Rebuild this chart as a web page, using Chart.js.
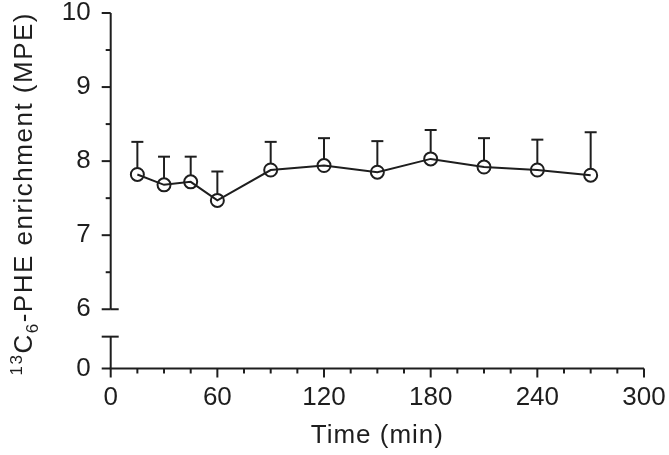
<!DOCTYPE html>
<html>
<head>
<meta charset="utf-8">
<script src="https://cdn.jsdelivr.net/npm/chart.js@4.4.0/dist/chart.umd.min.js"></script>
<style>
  body { margin: 0; background: #fff; }
  #wrap { width: 669px; height: 455px; }
</style>
</head>
<body>
<div id="wrap"><canvas id="myChart"></canvas></div>
<script>
/* data */
const times = [15, 30, 45, 60, 90, 120, 150, 180, 210, 240, 270];
const enrichment = [7.82, 7.68, 7.72, 7.47, 7.88, 7.94, 7.85, 8.03, 7.92, 7.88, 7.81];
const sd = [0.44, 0.38, 0.34, 0.39, 0.38, 0.37, 0.42, 0.39, 0.39, 0.41, 0.58];

const xTicks = [0, 60, 120, 180, 240, 300];
const yTicks = [6, 7, 8, 9, 10];
const yBreakLabel = "0";

/* broken y axis: bottom of the scale stands for 0 */
const Y_MIN = 5.2;
const Y_BREAK_TOP = 5.63;

const INK = "#1e1e1e";
const FONT = "Liberation Sans, Arial, sans-serif";

/* axes, break, error bars and titles */
const figurePlugin = {
  id: "figure",
  afterDatasetsDraw(chart) {
    const ctx = chart.ctx;
    const xs = chart.scales.x;
    const ys = chart.scales.y;
    const left = xs.getPixelForValue(0);
    const bottom = ys.getPixelForValue(Y_MIN);

    ctx.save();
    ctx.strokeStyle = INK;
    ctx.fillStyle = INK;
    ctx.lineWidth = 2;
    ctx.lineCap = "butt";

    const line = (x1, y1, x2, y2) => {
      ctx.beginPath();
      ctx.moveTo(x1, y1);
      ctx.lineTo(x2, y2);
      ctx.stroke();
    };

    // y axis, upper part
    line(left, ys.getPixelForValue(10), left, ys.getPixelForValue(6));
    for (let v = 6; v <= 10; v += 0.5) {
      const y = ys.getPixelForValue(v);
      const major = Number.isInteger(v);
      line(left - (major ? 9 : 5), y, left, y);
    }
    line(left, ys.getPixelForValue(6), left + 8, ys.getPixelForValue(6));

    // y axis, lower part
    const yb = ys.getPixelForValue(Y_BREAK_TOP);
    line(left, bottom, left, yb);
    line(left - 9, yb, left + 8, yb);
    line(left - 9, bottom, left, bottom);

    // x axis
    line(left - 1, bottom, xs.getPixelForValue(300), bottom);
    for (let t = 0; t <= 300; t += 15) {
      const x = xs.getPixelForValue(t);
      line(x, bottom, x, bottom + (t % 60 === 0 ? 9 : 5));
    }

    // error bars (upward)
    const meta = chart.getDatasetMeta(0);
    meta.data.forEach((pt, i) => {
      const r = pt.options.radius;
      const yTop = ys.getPixelForValue(enrichment[i] + sd[i]);
      line(pt.x, pt.y - r, pt.x, yTop);
      line(pt.x - 6, yTop, pt.x + 6, yTop);
    });

    // x title
    ctx.letterSpacing = "1px";
    ctx.font = "26px " + FONT;
    ctx.textAlign = "center";
    ctx.textBaseline = "alphabetic";
    ctx.fillText("Time (min)", (left + xs.getPixelForValue(300)) / 2, 443);

    // y title with superscript / subscript
    ctx.letterSpacing = "1.5px";
    const parts = [
      { t: "13", size: 17, shift: -10 },
      { t: "C", size: 26, shift: 0 },
      { t: "6", size: 17, shift: 6 },
      { t: "-PHE enrichment (MPE)", size: 26, shift: 0 },
    ];
    let total = 0;
    parts.forEach((p) => {
      ctx.font = p.size + "px " + FONT;
      p.w = ctx.measureText(p.t).width;
      total += p.w;
    });
    ctx.translate(32, (ys.getPixelForValue(10) + bottom) / 2 + 3);
    ctx.rotate(-Math.PI / 2);
    ctx.textAlign = "left";
    let cx = -total / 2;
    parts.forEach((p) => {
      ctx.font = p.size + "px " + FONT;
      ctx.fillText(p.t, cx, p.shift);
      cx += p.w;
    });
    ctx.restore();
  },
};

new Chart(document.getElementById("myChart"), {
  type: "line",
  data: {
    datasets: [
      {
        data: times.map((t, i) => ({ x: t, y: enrichment[i] })),
        borderColor: INK,
        borderWidth: 2,
        pointRadius: 6.5,
        pointBorderWidth: 2,
        pointBorderColor: INK,
        pointBackgroundColor: "rgba(0,0,0,0)",
        tension: 0,
        fill: false,
      },
    ],
  },
  options: {
    responsive: true,
    maintainAspectRatio: false,
    animation: false,
    layout: { padding: { top: 13, right: 25, left: 0, bottom: 0 } },
    plugins: {
      legend: { display: false },
      tooltip: { enabled: false },
    },
    scales: {
      x: {
        type: "linear",
        min: 0,
        max: 300,
        grid: { display: false },
        border: { display: false },
        afterBuildTicks: (scale) => {
          scale.ticks = xTicks.map((v) => ({ value: v }));
        },
        afterFit: (scale) => {
          scale.height = 86.5;
          scale.paddingLeft = 0;
          scale.paddingRight = 0;
        },
        ticks: {
          color: INK,
          padding: 6,
          maxRotation: 0,
          font: { family: FONT, size: 26 },
        },
      },
      y: {
        type: "linear",
        min: Y_MIN,
        max: 10,
        grid: { display: false },
        border: { display: false },
        afterBuildTicks: (scale) => {
          scale.ticks = [Y_MIN].concat(yTicks).map((v) => ({ value: v }));
        },
        afterFit: (scale) => {
          scale.width = 110.7;
          scale.paddingTop = 0;
          scale.paddingBottom = 0;
        },
        ticks: {
          color: INK,
          padding: 12,
          font: { family: FONT, size: 26 },
          callback: (value) => (value === Y_MIN ? yBreakLabel : value),
        },
      },
    },
  },
  plugins: [figurePlugin],
});
</script>
</body>
</html>
